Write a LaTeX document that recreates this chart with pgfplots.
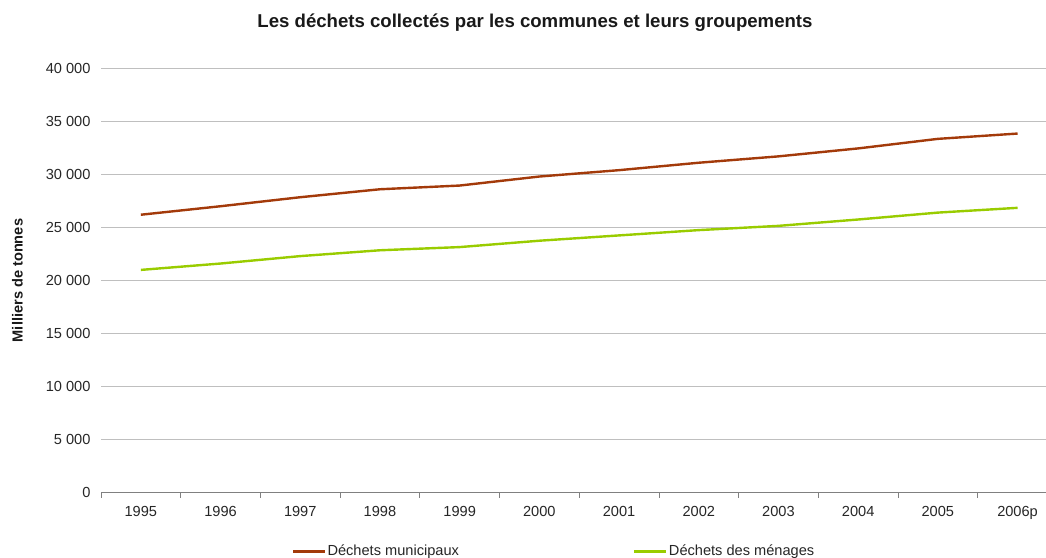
\documentclass[border=0pt]{standalone}
\usepackage{fontspec}
\setmainfont{Liberation Sans}
\usepackage{pgfplots}
\pgfplotsset{compat=1.18}
\definecolor{muni}{HTML}{A33A0A}
\definecolor{mena}{HTML}{99CC00}
\definecolor{gridc}{HTML}{BFBFBF}
\definecolor{axisc}{HTML}{808080}
\begin{document}
\begin{tikzpicture}[x=1pt,y=1pt]
\path[use as bounding box] (0,0) rectangle (1046,-557);
\begin{axis}[
  at={(101pt,-492.7pt)}, anchor=south west,
  width=945pt, height=424.4pt, scale only axis,
  xmin=-0.5, xmax=11.357, ymin=0, ymax=40000,
  scaled y ticks=false,
  axis x line*=bottom, axis y line*=left,
  x axis line style={draw=axisc, line width=0.8pt, -},
  y axis line style={draw=none},
  xtick={0,...,11},
  xticklabels={1995,1996,1997,1998,1999,2000,2001,2002,2003,2004,2005,2006p},
  minor xtick={-0.5,0.5,...,10.5},
  major tick length=0pt, minor tick length=5pt,
  tick align=outside,
  minor tick style={draw=axisc, line width=0.8pt},
  ytick={0,5000,...,40000},
  yticklabels={0,5 000,10 000,15 000,20 000,25 000,30 000,35 000,40 000},
  ymajorgrids, grid style={draw=gridc, line width=0.8pt},
  ytick style={draw=none},
  ticklabel style={font=\fontsize{14.6}{17}\selectfont, text=black!85},
  xticklabel style={yshift=-9.6pt},
  yticklabel style={xshift=-7pt},
  clip=false,
  legend columns=2,
  legend style={at={(0.2014,-0.1374)}, anchor=west, draw=none, fill=none,
    inner sep=0pt, font=\fontsize{14.6}{17}\selectfont,
    nodes={inner sep=1pt, text=black!85},
    /tikz/every even column/.append style={column sep=173pt}},
  legend image code/.code={\draw[#1, line width=3pt] (0pt,0pt) -- (32pt,0pt);},
]
\addplot[muni, line width=2.4pt] coordinates {
(0,26200) (1,27000) (2,27850) (3,28600) (4,28950) (5,29800)
(6,30400) (7,31100) (8,31700) (9,32450) (10,33350) (11,33850)};
\addlegendentry{Déchets municipaux}
\addplot[mena, line width=2.4pt] coordinates {
(0,21000) (1,21600) (2,22300) (3,22850) (4,23150) (5,23750)
(6,24250) (7,24750) (8,25150) (9,25750) (10,26400) (11,26850)};
\addlegendentry{Déchets des ménages}
\end{axis}
\node[font=\bfseries\fontsize{18.6}{21}\selectfont, text=black!90] at (535,-23) {Les déchets collectés par les communes et leurs groupements};
\node[font=\bfseries\fontsize{14.6}{17}\selectfont, rotate=90, text=black!90] at (17.5,-280.5) {Milliers de tonnes};
\end{tikzpicture}
\end{document}
